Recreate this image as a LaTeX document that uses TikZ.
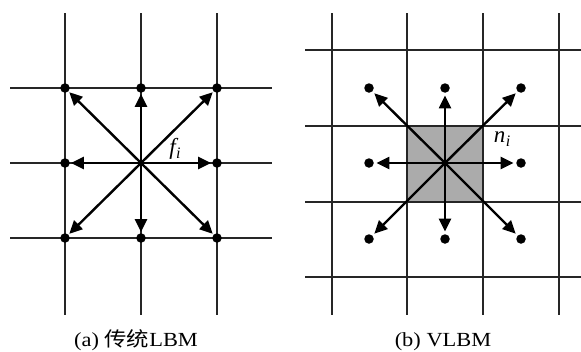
\documentclass[tikz,border=0pt]{standalone}
\usepackage{fontspec}
\setmainfont{Liberation Serif}
\newfontfamily\cjk{Noto Sans CJK SC}
\usepackage{graphicx}
\usetikzlibrary{arrows.meta}
\tikzset{
  gridline/.style={line width=1.3pt, draw=black!85},
  dot/.style={circle, fill=black, inner sep=0pt, minimum size=9.5pt},
  arr/.style={line width=2.4pt, -{Triangle[length=13pt,width=12pt]}},
  captext/.style={font=\fontsize{20}{22}\selectfont, anchor=base},
}
\begin{document}
\begin{tikzpicture}[x=1pt,y=-1pt]
\useasboundingbox[fill=white] (0,0) rectangle (581,351);
% ---------- (a) ----------
\foreach \x in {65,141,217} \draw[gridline] (\x,13) -- (\x,315);
\foreach \y in {88,163,238} \draw[gridline] (10,\y) -- (272,\y);
\coordinate (ca) at (141,163);
\node[dot] (a1) at (65,88) {};
\node[dot] (a2) at (141,88) {};
\node[dot] (a3) at (217,88) {};
\node[dot] (a4) at (65,163) {};
\node[dot] (a6) at (217,163) {};
\node[dot] (a7) at (65,238) {};
\node[dot] (a8) at (141,238) {};
\node[dot] (a9) at (217,238) {};
\foreach \n in {a1,a2,a3,a4,a6,a7,a8,a9}
  \draw[arr, shorten >=1pt] (ca) -- (\n);
\node (fi) at (175,149) {\fontsize{23}{23}\selectfont\itshape f\kern0.5pt\raisebox{-4pt}{\fontsize{16}{16}\selectfont i}};
% ---------- (b) ----------
\fill[black!33] (407,126) rectangle (483,202);
\foreach \x in {332,407,483,559} \draw[gridline] (\x,13) -- (\x,315);
\foreach \y in {50,126,202,277} \draw[gridline] (305,\y) -- (581,\y);
\coordinate (cb) at (445,163);
\node[dot] (b1) at (369,88) {};
\node[dot] (b2) at (445,88) {};
\node[dot] (b3) at (521,88) {};
\node[dot] (b4) at (369,163) {};
\node[dot] (b6) at (521,163) {};
\node[dot] (b7) at (369,239) {};
\node[dot] (b8) at (445,239) {};
\node[dot] (b9) at (521,239) {};
\foreach \n in {b1,b2,b3,b4,b6,b7,b8,b9}
  \draw[arr, shorten >=2.5pt] (cb) -- (\n);
\node (ni) at (502,139) {\fontsize{23}{23}\selectfont\itshape n\kern0.5pt\raisebox{-4pt}{\fontsize{16}{16}\selectfont i}};
% ---------- captions ----------
\node[captext] (capa) at (136,346) {\scalebox{1.12}[1]{(a) {\cjk 传统}LBM}};
\node[captext] (capb) at (443,346) {\scalebox{1.12}[1]{(b) VLBM}};
\end{tikzpicture}
\end{document}
